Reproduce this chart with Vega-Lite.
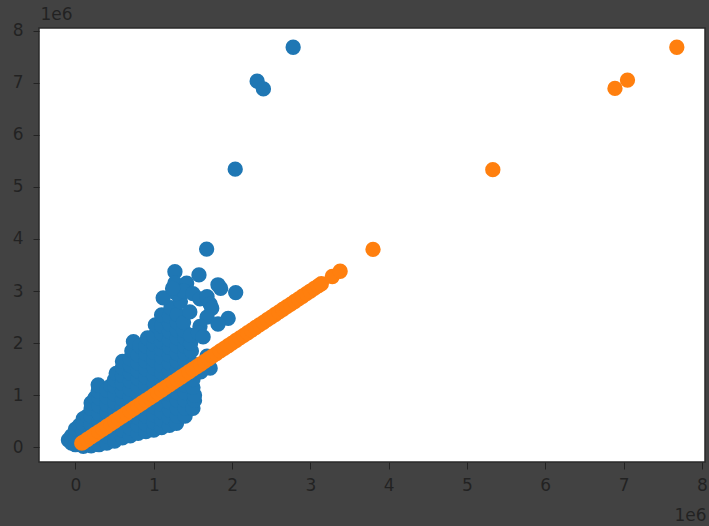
{"$schema":"https://vega.github.io/schema/vega-lite/v6.json","width":666,"height":434,"autosize":"none","padding":{"left":39,"top":28,"right":4,"bottom":64},"background":"#424242","config":{"view":{"fill":"#ffffff","stroke":"#2a2a2a","strokeWidth":1.5},"font":"DejaVu Sans"},"datasets":{"blue":[
{"x":-0.09,"y":0.14},{"x":-0.05,"y":0.08},{"x":-0.05,"y":0.22},{"x":0,"y":0.05},{"x":0,"y":0.2},{"x":0,"y":0.35},{"x":0.05,"y":0.42},{"x":0.1,"y":0.02},{"x":0.1,"y":0.15},{"x":0.1,"y":0.3},{"x":0.1,"y":0.45},{"x":0.1,"y":0.55},{"x":0.15,"y":0.6},
{"x":0.2,"y":0.03},{"x":0.2,"y":0.15},{"x":0.2,"y":0.3},{"x":0.2,"y":0.45},{"x":0.2,"y":0.6},{"x":0.2,"y":0.75},{"x":0.2,"y":0.85},{"x":0.25,"y":0.95},
{"x":0.3,"y":0.05},{"x":0.3,"y":0.2},{"x":0.3,"y":0.35},{"x":0.3,"y":0.5},{"x":0.3,"y":0.65},{"x":0.3,"y":0.8},{"x":0.3,"y":0.95},{"x":0.29,"y":1.08},{"x":0.29,"y":1.2},
{"x":0.4,"y":0.08},{"x":0.4,"y":0.22},{"x":0.4,"y":0.37},{"x":0.4,"y":0.52},{"x":0.4,"y":0.67},{"x":0.4,"y":0.82},{"x":0.4,"y":0.97},{"x":0.4,"y":1.1},{"x":0.45,"y":1.18},
{"x":0.5,"y":0.12},{"x":0.5,"y":0.27},{"x":0.5,"y":0.42},{"x":0.5,"y":0.57},{"x":0.5,"y":0.72},{"x":0.5,"y":0.87},{"x":0.5,"y":1.02},{"x":0.5,"y":1.17},{"x":0.5,"y":1.3},{"x":0.52,"y":1.42},
{"x":0.6,"y":0.18},{"x":0.6,"y":0.33},{"x":0.6,"y":0.48},{"x":0.6,"y":0.63},{"x":0.6,"y":0.78},{"x":0.6,"y":0.93},{"x":0.6,"y":1.08},{"x":0.6,"y":1.23},{"x":0.6,"y":1.38},{"x":0.6,"y":1.53},{"x":0.6,"y":1.65},
{"x":0.7,"y":0.22},{"x":0.7,"y":0.37},{"x":0.7,"y":0.52},{"x":0.7,"y":0.67},{"x":0.7,"y":0.82},{"x":0.7,"y":0.97},{"x":0.7,"y":1.12},{"x":0.7,"y":1.27},{"x":0.7,"y":1.42},{"x":0.7,"y":1.57},{"x":0.7,"y":1.7},{"x":0.72,"y":1.85},{"x":0.74,"y":2.03},
{"x":0.8,"y":0.27},{"x":0.8,"y":0.42},{"x":0.8,"y":0.57},{"x":0.8,"y":0.72},{"x":0.8,"y":0.87},{"x":0.8,"y":1.02},{"x":0.8,"y":1.17},{"x":0.8,"y":1.32},{"x":0.8,"y":1.47},{"x":0.8,"y":1.62},{"x":0.8,"y":1.77},{"x":0.82,"y":1.95},
{"x":0.9,"y":0.3},{"x":0.9,"y":0.45},{"x":0.9,"y":0.6},{"x":0.9,"y":0.75},{"x":0.9,"y":0.9},{"x":0.9,"y":1.05},{"x":0.9,"y":1.2},{"x":0.9,"y":1.35},{"x":0.9,"y":1.5},{"x":0.9,"y":1.65},{"x":0.9,"y":1.8},{"x":0.9,"y":1.95},{"x":0.92,"y":2.1},
{"x":1,"y":0.33},{"x":1,"y":0.48},{"x":1,"y":0.63},{"x":1,"y":0.78},{"x":1,"y":0.93},{"x":1,"y":1.08},{"x":1,"y":1.23},{"x":1,"y":1.38},{"x":1,"y":1.53},{"x":1,"y":1.68},{"x":1,"y":1.83},{"x":1,"y":1.98},{"x":1,"y":2.13},{"x":1.02,"y":2.35},
{"x":1.1,"y":0.38},{"x":1.1,"y":0.53},{"x":1.1,"y":0.68},{"x":1.1,"y":0.83},{"x":1.1,"y":0.98},{"x":1.1,"y":1.13},{"x":1.1,"y":1.28},{"x":1.1,"y":1.43},{"x":1.1,"y":1.58},{"x":1.1,"y":1.73},{"x":1.1,"y":1.88},{"x":1.1,"y":2.03},{"x":1.1,"y":2.18},{"x":1.1,"y":2.33},{"x":1.1,"y":2.54},
{"x":1.2,"y":0.42},{"x":1.2,"y":0.57},{"x":1.2,"y":0.72},{"x":1.2,"y":0.87},{"x":1.2,"y":1.02},{"x":1.2,"y":1.17},{"x":1.2,"y":1.32},{"x":1.2,"y":1.47},{"x":1.2,"y":1.62},{"x":1.2,"y":1.77},{"x":1.2,"y":1.92},{"x":1.2,"y":2.07},{"x":1.2,"y":2.22},{"x":1.2,"y":2.37},{"x":1.2,"y":2.52},{"x":1.22,"y":2.68},{"x":1.12,"y":2.87},
{"x":1.29,"y":0.46},{"x":1.3,"y":0.6},{"x":1.3,"y":0.75},{"x":1.3,"y":0.9},{"x":1.3,"y":1.05},{"x":1.3,"y":1.2},{"x":1.3,"y":1.35},{"x":1.3,"y":1.5},{"x":1.3,"y":1.65},{"x":1.3,"y":1.8},{"x":1.3,"y":1.95},{"x":1.3,"y":2.1},{"x":1.3,"y":2.25},{"x":1.3,"y":2.4},{"x":1.3,"y":2.55},{"x":1.34,"y":2.8},{"x":1.29,"y":2.95},{"x":1.27,"y":3.37},{"x":1.27,"y":3.15},{"x":1.42,"y":3.15},{"x":1.38,"y":3},{"x":1.24,"y":3.05},
{"x":1.4,"y":0.6},{"x":1.4,"y":0.75},{"x":1.4,"y":0.9},{"x":1.4,"y":1.05},{"x":1.4,"y":1.2},{"x":1.4,"y":1.35},{"x":1.4,"y":1.5},{"x":1.4,"y":1.65},{"x":1.4,"y":1.8},{"x":1.4,"y":1.95},{"x":1.4,"y":2.1},{"x":1.38,"y":2.25},{"x":1.38,"y":2.4},{"x":1.46,"y":2.6},
{"x":1.5,"y":0.75},{"x":1.52,"y":0.9},{"x":1.52,"y":1},{"x":1.5,"y":1.15},{"x":1.5,"y":1.3},{"x":1.5,"y":1.45},{"x":1.5,"y":1.6},{"x":1.48,"y":1.85},{"x":1.47,"y":2},{"x":1.47,"y":2.15},{"x":1.5,"y":2.95},{"x":1.59,"y":2.85},{"x":1.68,"y":2.89},{"x":1.72,"y":2.75},{"x":1.74,"y":2.67},{"x":1.68,"y":2.5},{"x":1.59,"y":2.32},{"x":1.57,"y":2.2},{"x":1.63,"y":2.12},{"x":1.6,"y":1.45},{"x":1.72,"y":1.52},{"x":1.68,"y":1.75},{"x":1.577,"y":3.31},{"x":1.675,"y":3.806},{"x":1.854,"y":3.05},{"x":1.82,"y":3.12},{"x":2.046,"y":2.97},{"x":1.95,"y":2.476},{"x":1.82,"y":2.367},{"x":2.04,"y":5.34},{"x":2.32,"y":7.03},{"x":2.4,"y":6.88},{"x":2.78,"y":7.68}
],"orange":[
{"x":0.08,"y":0.08},{"x":0.1,"y":0.1},{"x":0.15,"y":0.15},{"x":0.2,"y":0.2},{"x":0.25,"y":0.25},{"x":0.3,"y":0.3},{"x":0.35,"y":0.35},{"x":0.4,"y":0.4},{"x":0.45,"y":0.45},{"x":0.5,"y":0.5},{"x":0.55,"y":0.55},{"x":0.6,"y":0.6},{"x":0.65,"y":0.65},{"x":0.7,"y":0.7},{"x":0.75,"y":0.75},{"x":0.8,"y":0.8},{"x":0.85,"y":0.85},{"x":0.9,"y":0.9},{"x":0.95,"y":0.95},{"x":1,"y":1},{"x":1.05,"y":1.05},{"x":1.1,"y":1.1},{"x":1.15,"y":1.15},{"x":1.2,"y":1.2},{"x":1.25,"y":1.25},{"x":1.3,"y":1.3},{"x":1.35,"y":1.35},{"x":1.4,"y":1.4},{"x":1.45,"y":1.45},{"x":1.5,"y":1.5},{"x":1.55,"y":1.55},{"x":1.6,"y":1.6},{"x":1.65,"y":1.65},{"x":1.7,"y":1.7},{"x":1.75,"y":1.75},{"x":1.8,"y":1.8},{"x":1.85,"y":1.85},{"x":1.9,"y":1.9},{"x":1.95,"y":1.95},{"x":2,"y":2},{"x":2.05,"y":2.05},{"x":2.1,"y":2.1},{"x":2.15,"y":2.15},{"x":2.2,"y":2.2},{"x":2.25,"y":2.25},{"x":2.3,"y":2.3},{"x":2.35,"y":2.35},{"x":2.4,"y":2.4},{"x":2.45,"y":2.45},{"x":2.5,"y":2.5},{"x":2.55,"y":2.55},{"x":2.6,"y":2.6},{"x":2.65,"y":2.65},{"x":2.7,"y":2.7},{"x":2.75,"y":2.75},{"x":2.8,"y":2.8},{"x":2.85,"y":2.85},{"x":2.9,"y":2.9},{"x":2.95,"y":2.95},{"x":3,"y":3},{"x":3.05,"y":3.05},{"x":3.1,"y":3.1},{"x":3.14,"y":3.14},{"x":3.28,"y":3.28},{"x":3.38,"y":3.38},{"x":3.8,"y":3.8},{"x":5.33,"y":5.33},{"x":6.89,"y":6.89},{"x":7.05,"y":7.05},{"x":7.68,"y":7.68}
]},
"encoding":{"x":{"field":"x","type":"quantitative","scale":{"domain":[-0.466,8.04],"nice":false,"zero":false},"axis":{"values":[0,1,2,3,4,5,6,7,8],"format":"d","grid":false,"domain":false,"tickColor":"#222222","tickSize":7,"labelColor":"#222222","labelFontSize":17,"labelPadding":8,"title":"1e6","titleColor":"#222222","titleFontSize":17,"titleFontWeight":"normal","titleX":651,"titleY":45}},"y":{"field":"y","type":"quantitative","scale":{"domain":[-0.282,8.05],"nice":false,"zero":false},"axis":{"values":[0,1,2,3,4,5,6,7,8],"format":"d","grid":false,"domain":false,"tickColor":"#222222","tickSize":6,"labelColor":"#222222","labelFontSize":17,"labelPadding":10,"title":"1e6","titleColor":"#222222","titleFontSize":17,"titleFontWeight":"normal","titleAngle":0,"titleX":17,"titleY":-5}}},
"layer":[{"data":{"name":"blue"},"mark":{"type":"circle","size":235,"color":"#1f77b4","opacity":1}},{"data":{"name":"orange"},"mark":{"type":"circle","size":235,"color":"#ff7f0e","opacity":1}}]}
